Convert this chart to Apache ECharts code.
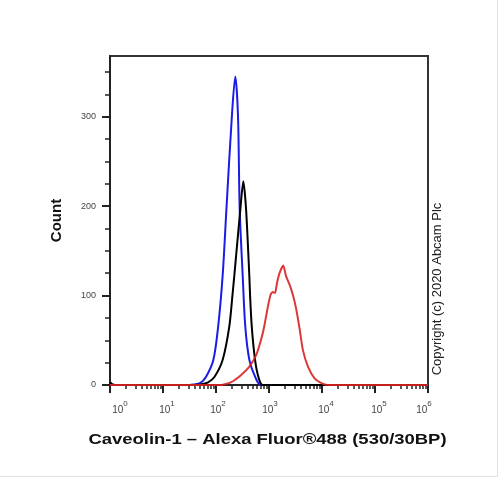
<!DOCTYPE html>
<html>
<head>
<meta charset="utf-8">
<script src="https://cdn.jsdelivr.net/npm/echarts@6/dist/echarts.min.js"></script>
<style>
html,body{margin:0;padding:0;background:#fff;}
#chart{width:502px;height:479px;}
</style>
</head>
<body>
<div id="chart"></div>
<script>
// Fluorescence positions are given in decades (log10 of intensity)
const blueX = [0, 1.50, 1.58, 1.70, 1.81, 1.95, 2.04, 2.125, 2.197, 2.30, 2.364, 2.415, 2.447, 2.504, 2.553, 2.63, 2.74, 2.85, 6];
const blueY = [0, 0,    0.5,  2,    9,    28,   65,   122,   197,   301,  345,   301,   197,   122,   65,    28,   9,    0,    0];

const blackX = [0, 0.04, 0.1, 1.60, 1.71, 1.85, 1.97, 2.125, 2.25, 2.31, 2.345, 2.46, 2.515, 2.567, 2.629, 2.643, 2.675, 2.737, 2.80, 2.88, 6];
const blackY = [3, 1,    0,   0,    0.5,  3,    9,    28,    65,   100,  122,   197,  228,   197,   122,   100,   65,    28,    9,    0,    0];

const redX = [0, 2.09, 2.28, 2.47, 2.63, 2.76, 2.85, 2.91, 2.98, 3.03, 3.07, 3.115, 3.15, 3.20, 3.27, 3.32, 3.39, 3.45, 3.51, 3.58, 3.64, 3.735, 3.86, 3.99, 4.10, 6];
const redY = [0, 0,    3,    11,   20.6, 33.7, 50.6, 65.5, 88,   101,  104,  103,   114,  125.5, 133.7, 122, 112,  101,  86,   62,   39,   20.6,  7.5,  2,    0,    0];

const xMajorTicks = [0, 1, 2, 3, 4, 5, 6];
const xLabelShift = [10, 4, 2, 1, 4, 4, -4];
const yMajorTicks = [0, 100, 200, 300];
const yMinorTicks = [25, 50, 75, 125, 150, 175, 225, 250, 275, 325, 350];
const minorMultipliers = [2, 3, 4, 5, 6, 7, 8, 9];

const xMinorTicks = [];
for (let d = 0; d < 6; d++) {
  minorMultipliers.forEach(m => xMinorTicks.push(d + Math.log10(m)));
}

function pairs(xs, ys) { return xs.map((x, i) => [x, ys[i]]); }

const font = 'Liberation Sans, Arial, sans-serif';
const axisColor = '#222';
const labelRich = {
  b: { fontFamily: font, fontSize: 10, color: '#444', verticalAlign: 'bottom' },
  s: { fontFamily: font, fontSize: 8, color: '#444', padding: [0, 0, 7, 0], verticalAlign: 'bottom' }
};
xMajorTicks.forEach((t, i) => {
  labelRich['g' + i] = { width: Math.abs(xLabelShift[i]) * 2, fontSize: 1 };
});

const chart = echarts.init(document.getElementById('chart'));

chart.setOption({
  animation: false,
  backgroundColor: '#fff',
  grid: {
    left: 110, right: 74, top: 56, bottom: 94,
    show: true, borderColor: '#333', borderWidth: 2, backgroundColor: 'transparent'
  },
  xAxis: [{
    type: 'value', min: 0, max: 6, interval: 1,
    position: 'bottom',
    axisLine: { show: true, onZero: false, lineStyle: { color: axisColor, width: 2 } },
    axisTick: { show: true, length: 8, lineStyle: { color: axisColor, width: 2 }, customValues: xMajorTicks },
    axisLabel: {
      margin: 15, customValues: xMajorTicks,
      formatter: v => {
        const i = xMajorTicks.indexOf(v);
        const sp = '{g' + i + '| }';
        const core = '{b|10}{s|' + v + '}';
        return xLabelShift[i] >= 0 ? sp + core : core + sp;
      },
      rich: labelRich
    },
    splitLine: { show: false }
  }, {
    type: 'value', min: 0, max: 6,
    position: 'bottom',
    axisLine: { show: false, onZero: false },
    axisTick: { show: true, length: 4, lineStyle: { color: axisColor, width: 1.5 }, customValues: xMinorTicks },
    axisLabel: { show: false },
    splitLine: { show: false }
  }],
  yAxis: [{
    type: 'value', min: 0, max: 368,
    name: 'Count', nameLocation: 'middle', nameGap: 46, nameRotate: 90,
    nameTextStyle: { fontFamily: font, fontWeight: 'bold', fontSize: 15, color: '#111' },
    axisLine: { show: true, onZero: false, lineStyle: { color: axisColor, width: 2 } },
    axisTick: { show: true, length: 8, lineStyle: { color: axisColor, width: 2 }, customValues: yMajorTicks },
    axisLabel: { margin: 14, fontFamily: font, fontSize: 9, color: '#444', customValues: yMajorTicks },
    splitLine: { show: false }
  }, {
    type: 'value', min: 0, max: 368, position: 'left',
    axisLine: { show: false, onZero: false },
    axisTick: { show: true, length: 5, lineStyle: { color: axisColor, width: 1.5 }, customValues: yMinorTicks },
    axisLabel: { show: false },
    splitLine: { show: false }
  }],
  series: [{
    type: 'line', name: 'Isotype', data: pairs(blueX, blueY),
    showSymbol: false, smooth: 0.3, z: 3,
    lineStyle: { color: '#1c1ce8', width: 2 }
  }, {
    type: 'line', name: 'Unstained', data: pairs(blackX, blackY),
    showSymbol: false, smooth: 0.25, z: 4,
    lineStyle: { color: '#000', width: 2 }
  }, {
    type: 'line', name: 'Caveolin-1', data: pairs(redX, redY),
    showSymbol: false, smooth: 0.2, z: 5,
    lineStyle: { color: '#d82222', width: 2, opacity: 0.9 }
  }],
  graphic: [{
    type: 'text', x: 267.5, y: 440, scaleX: 1.23,
    style: { text: 'Caveolin-1 – Alexa Fluor®488 (530/30BP)', fontFamily: font, fontWeight: 'bold', fontSize: 15, fill: '#111', align: 'center', verticalAlign: 'middle' }
  }, {
    type: 'text', x: 437, y: 289, rotation: Math.PI / 2,
    style: { text: 'Copyright (c) 2020 Abcam Plc', fontFamily: font, fontSize: 13, fill: '#222', align: 'center', verticalAlign: 'middle' }
  }, {
    type: 'line', shape: { x1: 497.5, y1: 0, x2: 497.5, y2: 476 },
    style: { stroke: '#e2e2e2', lineWidth: 1 }
  }, {
    type: 'line', shape: { x1: 0, y1: 476.5, x2: 498, y2: 476.5 },
    style: { stroke: '#e2e2e2', lineWidth: 1 }
  }]
});
</script>
</body>
</html>
